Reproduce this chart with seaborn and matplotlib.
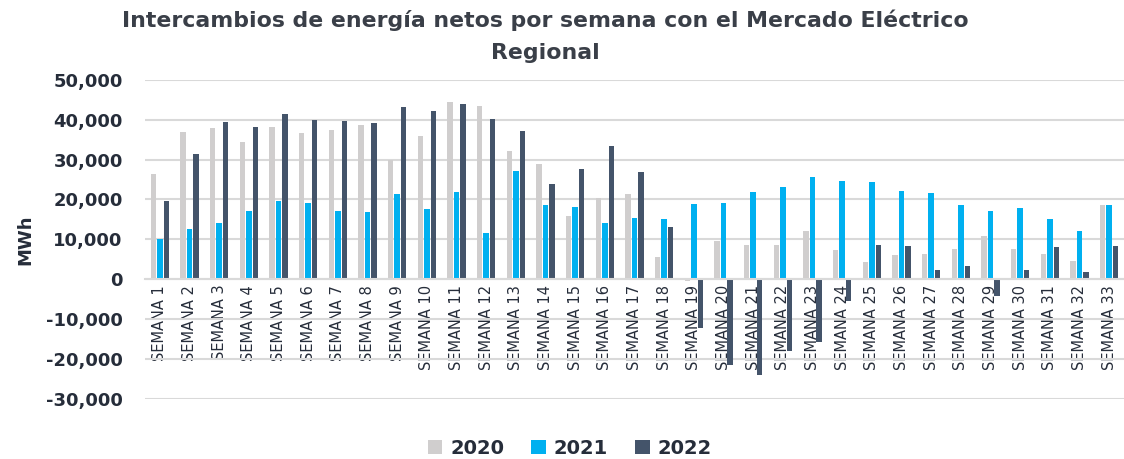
import matplotlib
matplotlib.use("Agg")
import matplotlib.pyplot as plt
import seaborn as sns
import pandas as pd
from matplotlib.ticker import FuncFormatter, MultipleLocator

weeks = [f"SEMANA {i}" for i in range(1, 34)]
years = ["2020", "2021", "2022"]
v2020 = [26500, 36900, 37900, 34400, 38200, 36700, 37400, 38600, 30000, 35800,
         44500, 43500, 32200, 28800, 15900, 20400, 21300, 5600, -500, 9500,
         8500, 8700, 12200, 7300, 4400, 6100, 6400, 7600, 10900, 7500,
         6400, 4500, 18600]
v2021 = [10000, 12600, 14200, 17100, 19500, 19100, 17100, 16900, 21400, 17500,
         21900, 11600, 27100, 18600, 18100, 14200, 15300, 15100, 18800, 19000,
         21900, 23100, 25600, 24600, 24500, 22100, 21700, 18700, 17200, 17800,
         15100, 12100, 18600]
v2022 = [19600, 31300, 39400, 38100, 41500, 39900, 39800, 39300, 43100, 42300,
         44000, 40300, 37100, 24000, 27600, 33300, 27000, 13000, -12200, -21400,
         -24100, -18000, -15700, -5400, 8600, 8300, 2400, 3300, -4300, 2400,
         8000, 1900, 8400]
colors = ["#D0CECE", "#00B0F0", "#44546A"]

df = pd.DataFrame({
    "week": weeks * 3,
    "year": [years[0]] * 33 + [years[1]] * 33 + [years[2]] * 33,
    "value": v2020 + v2021 + v2022,
})

sns.set_theme(style="white")
plt.rcParams["font.family"] = ["DejaVu Sans"]
txt = "#262D3A"

fig = plt.figure(figsize=(11.24, 4.59), dpi=100)
ax = fig.add_axes([0.129, 0.131, 0.871, 0.695])

sns.barplot(data=df, x="week", y="value", hue="year", hue_order=years,
            palette=colors, width=0.66, gap=0.16, ax=ax, saturation=1,
            errorbar=None, linewidth=0)

ax.set_xlim(-0.5, 32.5)
ax.set_ylim(-30000, 50000)
ax.yaxis.set_major_locator(MultipleLocator(10000))
ax.yaxis.set_major_formatter(FuncFormatter(lambda v, p: f"{int(v):,}"))
ax.grid(axis="y", color="#D9D9D9", linewidth=1.5)
ax.set_axisbelow(True)
for s in ["top", "right", "left"]:
    ax.spines[s].set_visible(False)
ax.spines["bottom"].set_position(("data", 0))
ax.spines["bottom"].set_color("#D9D9D9")
ax.spines["bottom"].set_linewidth(1.5)

ax.tick_params(axis="x", length=0, pad=4, labelsize=10.5, labelcolor=txt,
               labelrotation=90)
ax.tick_params(axis="y", length=0, pad=16, labelsize=13, labelcolor=txt)
for lab in ax.get_yticklabels():
    lab.set_fontweight("semibold")
ax.set_xlabel("")
ax.set_ylabel("MWh", fontsize=13, color=txt, fontweight="semibold", labelpad=8)

handles, labels = ax.get_legend_handles_labels()
ax.legend(handles, labels, loc="lower center", bbox_to_anchor=(0.507, -0.035),
          bbox_transform=fig.transFigure, ncol=3, frameon=False,
          handlelength=0.75, handleheight=0.75, handletextpad=0.4,
          columnspacing=1.4, prop={"size": 14, "weight": "semibold"},
          labelcolor=txt)

fig.text(0.485, 0.955, "Intercambios de energía netos por semana con el Mercado Eléctrico",
         ha="center", va="center", fontsize=15.8, fontweight="bold", color="#3A3F48")
fig.text(0.485, 0.885, "Regional", ha="center", va="center", fontsize=15.8,
         fontweight="bold", color="#3A3F48")

fig.savefig("out.png", dpi=100)
